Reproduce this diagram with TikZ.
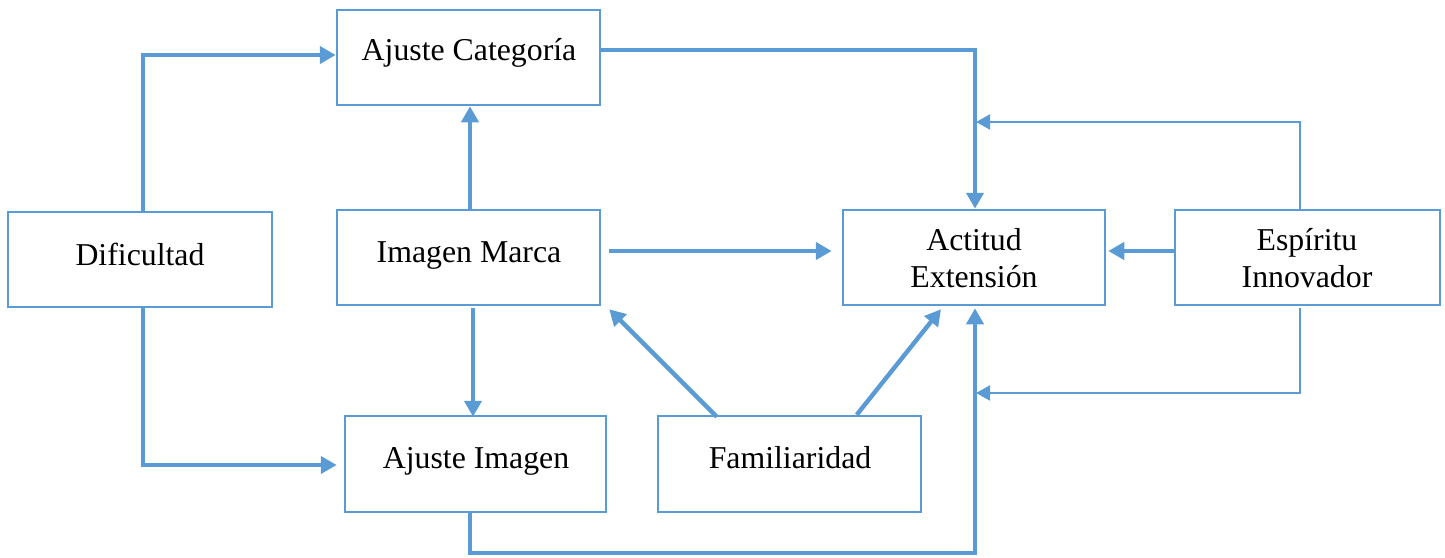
\documentclass[tikz,border=0pt]{standalone}
\usepackage{fontspec}
\setmainfont{Liberation Serif}
\usetikzlibrary{arrows.meta,calc}
\definecolor{lineblue}{RGB}{91,155,213}
\begin{document}
\begin{tikzpicture}[x=0.5pt,y=-0.5pt,
  box/.style={draw=lineblue,line width=1.25pt,minimum height=47.5pt,inner sep=0pt},
  lbl/.style={font=\fontsize{15.9}{18.5}\selectfont,align=center,inner sep=0pt,anchor=base},
  thick arrow/.style={draw=lineblue,line width=2.2pt,-{Triangle[length=8pt,width=8.5pt]}},
  thin arrow/.style={draw=lineblue,line width=1pt,-{Triangle[length=7pt,width=7.5pt]}}]
\useasboundingbox (0,0) rectangle (1445,557);

% boxes
\node[box,minimum width=131.5pt] (ac)  at (468.5,57.5) {};
\node[box,minimum width=132pt]   (dif) at (140,259.5) {};
\node[box,minimum width=131.5pt] (im)  at (468.5,257.5) {};
\node[box,minimum width=131pt]   (act) at (974,257.5) {};
\node[box,minimum width=132.5pt] (esp) at (1307.5,257.5) {};
\node[box,minimum width=130.5pt,minimum height=48pt] (ai)  at (475.5,464) {};
\node[box,minimum width=131.5pt,minimum height=48pt] (fam) at (789.5,464) {};

% labels (base anchor sits on the last line's baseline)
\node[lbl] (tac)  at (469,61) {Ajuste Categoría};
\node[lbl] (tdif) at (140,265) {Dificultad};
\node[lbl] (tim)  at (469,262) {Imagen Marca};
\node[lbl] (tact) at (974,287) {Actitud\\Extensión};
\node[lbl] (tesp) at (1307,287) {Espíritu\\Innovador};
\node[lbl] (tai)  at (476,468) {Ajuste Imagen};
\node[lbl] (tfam) at (790,468) {Familiaridad};

% helper points on the box edges
\coordinate (difN) at ($(dif.north)+(3,0)$);
\coordinate (difS) at ($(dif.south)+(3,0)$);
\coordinate (acW)  at ($(ac.west)+(0,-2.5)$);
\coordinate (aiW)  at ($(ai.west)+(-7,1)$);
\coordinate (imN)  at ($(im.north)+(1.5,0)$);
\coordinate (acS)  at ($(ac.south)+(1.5,0)$);
\coordinate (imS)  at ($(im.south)+(4.5,2)$);
\coordinate (aiN)  at ($(ai.north)+(-2.5,2)$);
\coordinate (imE)  at ($(im.east)+(8,-6.5)$);
\coordinate (actW) at ($(act.west)+(-10,-6.5)$);
\coordinate (acE)  at ($(ac.east)+(0,-7.5)$);
\coordinate (actN) at ($(act.north)+(1,0)$);
\coordinate (espN) at ($(esp.north)+(-7.5,0)$);
\coordinate (espS) at ($(esp.south)+(-7.5,2)$);
\coordinate (j1)   at (976,122);
\coordinate (j2)   at (976,393);
\coordinate (espW) at ($(esp.west)+(0,-6.5)$);
\coordinate (actE) at ($(act.east)+(2,-6.5)$);
\coordinate (famA) at ($(fam.north west)+(60,2)$);
\coordinate (imSE) at ($(im.south east)+(8,3)$);
\coordinate (famB) at ($(fam.north west)+(200,0)$);
\coordinate (actS) at ($(act.south)+(-33,3)$);
\coordinate (aiS)  at ($(ai.south west)+(126,0)$);
\coordinate (aiB)  at ($(aiS)+(0,40)$);
\coordinate (actS2) at ($(act.south)+(1,2)$);

% connectors
\draw[thick arrow] (difN) |- (acW);
\draw[thick arrow] (difS) |- (aiW);
\draw[thick arrow] (imN) -- (acS);
\draw[thick arrow] (imS) -- (aiN);
\draw[thick arrow] (imE) -- (actW);
\draw[thick arrow] (acE) -| (actN);
\draw[thin arrow] (espN) |- (j1);
\draw[thin arrow] (espS) |- (j2);
\draw[thick arrow] (espW) -- (actE);
\draw[thick arrow] (famA) -- (imSE);
\draw[thick arrow] (famB) -- (actS);
\draw[thick arrow] (aiS) -- (aiB) -| (actS2);
\end{tikzpicture}
\end{document}
